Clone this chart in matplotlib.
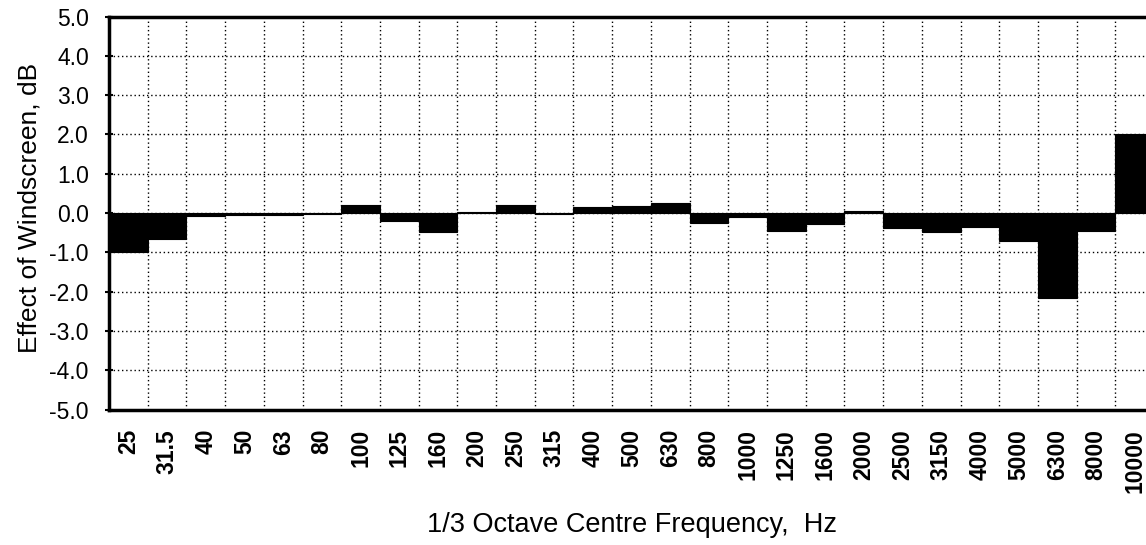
import matplotlib.pyplot as plt
import numpy as np
from matplotlib.ticker import FixedLocator, MultipleLocator

# 1/3 octave band centre frequencies and windscreen effect (dB)
bands = ["25", "31.5", "40", "50", "63", "80", "100", "125", "160", "200",
         "250", "315", "400", "500", "630", "800", "1000", "1250", "1600",
         "2000", "2500", "3150", "4000", "5000", "6300", "8000", "10000"]
effect_db = [-1.0, -0.65, -0.08, -0.06, -0.04, -0.02, 0.2, -0.2, -0.48, 0.02,
             0.2, -0.03, 0.15, 0.18, 0.26, -0.25, -0.1, -0.45, -0.28, 0.06,
             -0.38, -0.48, -0.36, -0.7, -2.15, -0.45, 2.0]

plt.rcParams.update({"font.family": ["Liberation Sans", "DejaVu Sans"]})

fig = plt.figure(figsize=(11.46, 5.45), dpi=100)
ax = fig.add_axes([0.0951, 0.2486, 0.912, 0.721])

x = np.arange(len(bands))
ax.bar(x, effect_db, width=1.0, color="black", edgecolor="black",
       linewidth=0.8, zorder=3)

ax.set_xlim(-0.5, len(bands) - 0.5)
ax.set_ylim(-5.0, 5.0)
ax.yaxis.set_major_locator(MultipleLocator(1.0))
ax.set_yticklabels([f"{v:.1f}" for v in ax.get_yticks()])

ax.set_xticks(x)
ax.set_xticklabels(bands, rotation=90, fontsize=16.5, fontweight="bold", va="top")
ax.xaxis.set_minor_locator(FixedLocator(x[:-1] + 0.5))

ax.tick_params(axis="x", which="both", length=0, pad=14)
ax.tick_params(axis="y", which="major", direction="inout", length=6,
               width=1.5, labelsize=16.5, pad=11.5)

# dotted grid: horizontal at every dB, vertical at band boundaries
ax.grid(axis="y", which="major", linestyle=(0, (1, 2)), color="black",
        linewidth=1.0, zorder=1)
ax.grid(axis="x", which="minor", linestyle=(0, (1, 2)), color="black",
        linewidth=1.0, zorder=1)
ax.grid(axis="x", which="major", visible=False)

for side in ("left", "bottom", "top"):
    ax.spines[side].set_linewidth(2.5)
ax.spines["right"].set_visible(False)

ax.set_ylabel("Effect of Windscreen, dB", fontsize=19)
ax.yaxis.set_label_coords(-0.065, 0.513)
ax.set_xlabel("1/3 Octave Centre Frequency,  Hz", fontsize=19.5)
ax.xaxis.set_label_coords(0.5, -0.26)

fig.savefig("out.png", dpi=100)
